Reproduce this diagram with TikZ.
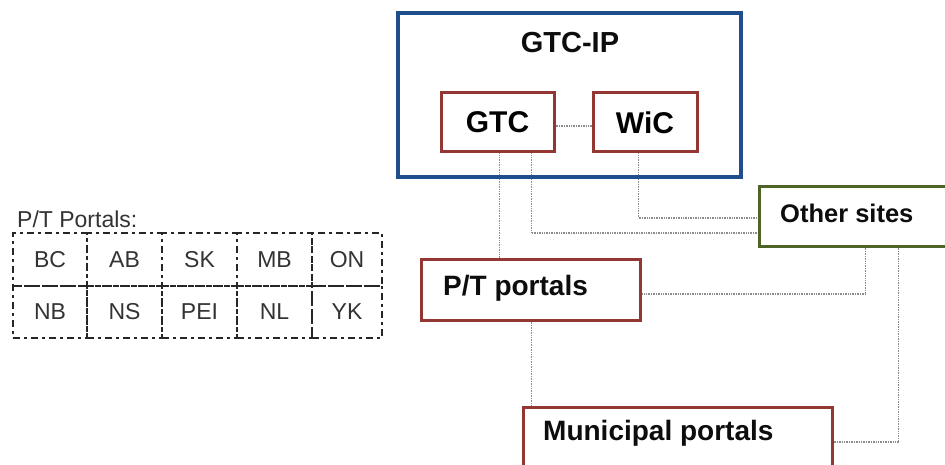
\documentclass[tikz,border=0pt]{standalone}
\usepackage{fontspec}
\setmainfont{Liberation Sans}
\definecolor{gtcblue}{HTML}{1F4E8C}
\definecolor{boxred}{HTML}{943634}
\definecolor{boxgreen}{HTML}{4F6228}
\definecolor{lnk}{HTML}{8C8C8C}
\definecolor{celltext}{HTML}{333333}
\pgfdeclarelayer{bg}
\pgfsetlayers{bg,main}
\begin{document}
\begin{tikzpicture}[x=1pt,y=-1pt,
  box/.style={draw, rectangle, inner sep=0pt, fill=white},
  redbox/.style={box, draw=boxred, line width=3pt},
  conn/.style={draw=lnk, line width=1.7pt, dash pattern=on 1pt off 0.7pt},
  cell/.style={draw=black!85, line width=1.6pt, dash pattern=on 7pt off 4pt on 3pt off 4pt,
    rectangle, inner sep=0pt, text=celltext, font=\fontsize{23}{27}\selectfont},
  big/.style={font=\fontsize{29}{34}\selectfont\bfseries, text=black!95},
  mid/.style={font=\fontsize{28}{33}\selectfont\bfseries, text=black!95, anchor=west, inner sep=0pt}
]
\useasboundingbox (0,0) rectangle (945,465);
\clip (0,0) rectangle (945,465);

% GTC-IP group
\node[draw=gtcblue, rectangle, inner sep=0pt, line width=4pt, minimum width=343, minimum height=164] (gtcip) at (569.5,95) {};
\node[big] (gtciplabel) at (570,43) {GTC-IP};
\node[redbox, minimum width=113, minimum height=59, font=\fontsize{30}{35}\selectfont\bfseries] (gtc) at (497.5,122.5) {GTC};
\node[redbox, minimum width=104, minimum height=59, font=\fontsize{30}{35}\selectfont\bfseries] (wic) at (645,122.5) {WiC};

% Other boxes
\node[box, draw=boxgreen, line width=3pt, minimum width=206, minimum height=59] (other) at (862,216.5) {};
\node[mid, font=\fontsize{25.5}{30}\selectfont\bfseries] (othertext) at (780,213) {Other sites};
\node[redbox, minimum width=219, minimum height=61] (pt) at (530.5,289.5) {};
\node[mid] (pttext) at (443,288) {P/T portals};
\node[redbox, minimum width=309, minimum height=75] (muni) at (677.5,444.5) {};
\node[mid] (munitext) at (543,433) {Municipal portals};

% connectors
\coordinate (g1) at ([xshift=60pt]gtc.south west);
\coordinate (g2) at ([xshift=92pt]gtc.south west);
\coordinate (w1) at ([xshift=47pt]wic.south west);
\coordinate (o1) at ([xshift=108pt]other.south west);
\coordinate (o2) at ([xshift=141pt]other.south west);
\coordinate (p1) at ([xshift=112pt]pt.south west);
\coordinate (oin1) at ([yshift=-1.5pt]other.west);
\coordinate (oin2) at ([yshift=-16.5pt]other.west);
\coordinate (ptin) at ([yshift=-4.5pt]pt.east);
\coordinate (muin) at ([yshift=2.5pt]muni.east);
\coordinate (gw) at ([yshift=-3.5pt]gtc.east);
\begin{pgfonlayer}{bg}
\draw[conn] (gw) -- (gw -| wic.west);
\draw[conn] (g1) -- (g1 |- pt.north);
\draw[conn] (g2) |- (oin2);
\draw[conn] (w1) |- (oin1);
\draw[conn] (o1) |- (ptin);
\draw[conn] (o2) |- (muin);
\draw[conn] (p1) -- (p1 |- muni.north);
\end{pgfonlayer}

% P/T Portals table
\node[anchor=west, inner sep=0pt, text=celltext, font=\fontsize{23}{27}\selectfont] (tabtitle) at (17,219) {P/T Portals:};
\node[cell, minimum width=74, minimum height=53] (bc)  at (50,259.5)  {BC};
\node[cell, minimum width=75, minimum height=53] (ab)  at (124.5,259.5) {AB};
\node[cell, minimum width=75, minimum height=53] (sk)  at (199.5,259.5) {SK};
\node[cell, minimum width=75, minimum height=53] (mb)  at (274.5,259.5) {MB};
\node[cell, minimum width=70, minimum height=53] (on)  at (347,259.5)  {ON};
\node[cell, minimum width=74, minimum height=52] (nb)  at (50,312)  {NB};
\node[cell, minimum width=75, minimum height=52] (ns)  at (124.5,312) {NS};
\node[cell, minimum width=75, minimum height=52] (pei) at (199.5,312) {PEI};
\node[cell, minimum width=75, minimum height=52] (nl)  at (274.5,312) {NL};
\node[cell, minimum width=70, minimum height=52] (yk)  at (347,312)  {YK};
\end{tikzpicture}
\end{document}
